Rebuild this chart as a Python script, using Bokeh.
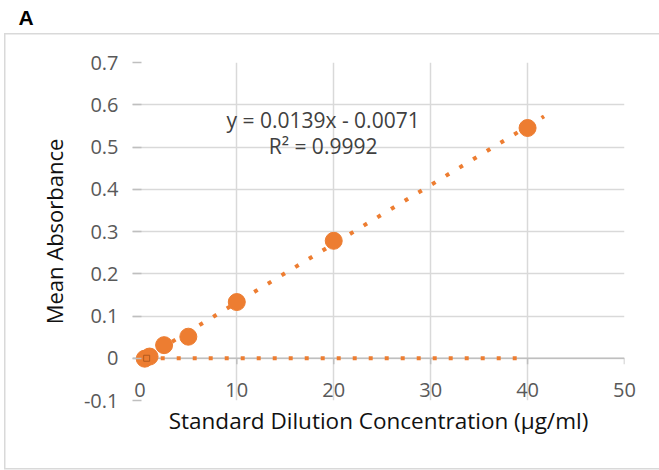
from bokeh.plotting import figure
from bokeh.models import FixedTicker, Span, Label, Range1d, Title
from bokeh.embed import file_html
from bokeh.resources import INLINE
import numpy as np

# ---- data ----
conc = [0.5, 1.0, 2.5, 5, 10, 20, 40]                      # µg/ml
absorbance = [-0.001, 0.004, 0.031, 0.051, 0.133, 0.278, 0.545]
blank_x = [0.7]
blank_y = [0.0]
blank_line_x = [0.5, 40]
blank_line_y = [0.0, 0.0]
slope = 0.0139
intercept = -0.0071
trend_x = [0.5, 41.7]
eq_text = "y = 0.0139x - 0.0071"
r2_text = "R² = 0.9992"
x_ticks = [0, 10, 20, 30, 40, 50]
x_grid = [10, 20, 30, 40, 50]
y_ticks = [-0.1, 0, 0.1, 0.2, 0.3, 0.4, 0.5, 0.6, 0.7]
y_labels = ["-0.1", "0", "0.1", "0.2", "0.3", "0.4", "0.5", "0.6", "0.7"]
x_title = "Standard Dilution Concentration (µg/ml)"
y_title = "Mean Absorbance"
panel_letter = "A"

ORANGE = "#ED7D31"
GRID = "#d9d9d9"
AXIS = "#bfbfbf"
FONT = "Open Sans"

g = "linear-gradient(#d9d9d9, #d9d9d9)"
chart_border_css = {
    "background-color": "white",
    "background-image": ", ".join([g, g, g]),
    "background-size": "1.5px 436px, 660px 1.5px, 660px 1.5px",
    "background-position": "4px 33px, 4px 32.5px, 4px 468px",
    "background-repeat": "no-repeat",
}

p = figure(width=659, height=470, output_backend="svg", toolbar_location=None,
           x_range=Range1d(-0.76, 50), y_range=Range1d(-0.1, 0.7),
           min_border_left=132, min_border_right=35, min_border_top=62,
           min_border_bottom=70, styles=chart_border_css)
p.outline_line_color = None
p.background_fill_color = "white"
p.border_fill_color = None

# panel letter as the plot title
p.title.text = panel_letter
p.title.align = "left"
p.title.offset = -114
p.title.standoff = 0
p.title.vertical_align = "top"
p.title.text_font = "Liberation Sans"
p.title.text_font_style = "bold"
p.title.text_font_size = "21px"
p.title.text_color = "black"
# empty spacer between the letter and the plot area
p.add_layout(Title(text=" ", text_font="Liberation Sans", text_font_size="19.5px",
                   standoff=8), "above")

# grids
p.xgrid.ticker = FixedTicker(ticks=x_grid)
p.ygrid.ticker = FixedTicker(ticks=y_ticks)
for gr in (p.xgrid, p.ygrid):
    gr.grid_line_color = GRID
    gr.grid_line_width = 1.5

# x axis
xa = p.xaxis[0]
xa.ticker = FixedTicker(ticks=x_ticks)
xa.axis_line_color = None
xa.major_tick_line_color = None
xa.minor_tick_line_color = None
xa.major_label_standoff = -24
xa.major_label_text_font = FONT
xa.major_label_text_font_size = "20px"
xa.major_label_text_color = "#595959"
xa.axis_label = x_title
xa.axis_label_text_font = FONT
xa.axis_label_text_font_size = "22.5px"
xa.axis_label_text_font_style = "normal"
xa.axis_label_text_color = "#111111"
xa.axis_label_standoff = 5

# y axis
ya = p.yaxis[0]
ya.ticker = FixedTicker(ticks=y_ticks)
ya.major_label_overrides = {t: l for t, l in zip(y_ticks, y_labels)}
ya.axis_line_color = None
ya.major_tick_in = 9
ya.major_tick_out = 0
ya.major_tick_line_color = AXIS
ya.major_tick_line_width = 1.5
ya.minor_tick_line_color = None
ya.major_label_standoff = 14
ya.major_label_text_font = FONT
ya.major_label_text_font_size = "20px"
ya.major_label_text_color = "#595959"
ya.axis_label = y_title
ya.axis_label_text_font = FONT
ya.axis_label_text_font_size = "22px"
ya.axis_label_text_font_style = "normal"
ya.axis_label_text_color = "#111111"
ya.axis_label_standoff = 12

# zero line with tick marks (beneath the data)
p.add_layout(Span(location=0, dimension="width", line_color=AXIS, line_width=1.5,
                  level="underlay"))
p.segment(x0=x_ticks, y0=[0] * len(x_ticks), x1=x_ticks, y1=[-0.014] * len(x_ticks),
          line_color=AXIS, line_width=1.5)

# blank series and its flat trendline
p.line(blank_line_x, blank_line_y, line_color=ORANGE, line_width=4, line_dash="4 12")

# linear trendline
tx = np.array(trend_x)
p.line(tx, slope * tx + intercept, line_color=ORANGE, line_width=4, line_dash="4 12")

# data points
p.scatter(conc, absorbance, size=17, fill_color=ORANGE, line_color=ORANGE)
p.scatter(blank_x, blank_y, marker="square", size=6, fill_color=None,
          line_color="#b35a1f", line_width=1)

# equation labels
p.add_layout(Label(x=18.9, y=0.563, text=eq_text, text_align="center",
                   text_baseline="middle", text_font=FONT, text_font_size="21px",
                   text_color="#404040"))
p.add_layout(Label(x=18.9, y=0.502, text=r2_text, text_align="center",
                   text_baseline="middle", text_font=FONT, text_font_size="21px",
                   text_color="#404040"))

open("out.html", "w").write(file_html(p, INLINE))
